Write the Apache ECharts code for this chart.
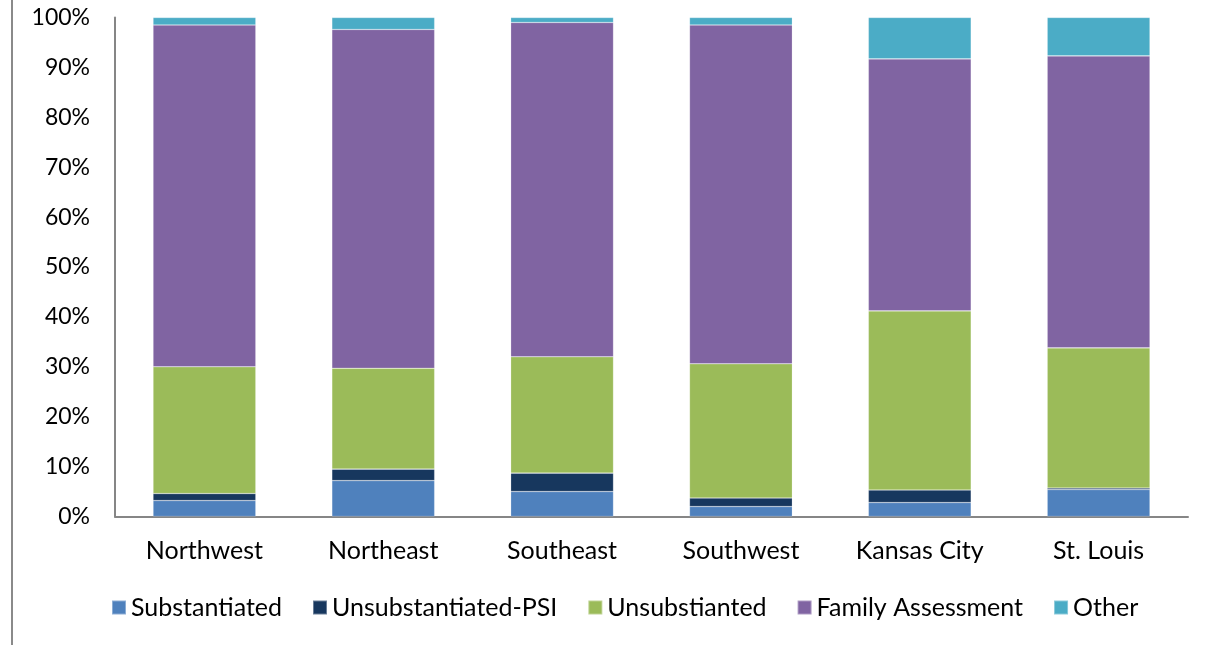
<!DOCTYPE html>
<html>
<head>
<meta charset="utf-8">
<script src="https://cdn.jsdelivr.net/npm/echarts@6/dist/echarts.min.js"></script>
<style>html,body{margin:0;padding:0;background:#fff;}#c{width:1214px;height:645px;}</style>
</head>
<body>
<div id="c"></div>
<script>
const categories = ['Northwest', 'Northeast', 'Southeast', 'Southwest', 'Kansas City', 'St. Louis'];
const seriesNames = ['Substantiated', 'Unsubstantiated-PSI', 'Unsubstianted', 'Family Assessment', 'Other'];
const substantiated = [3.2, 7.2, 5.0, 2.0, 2.8, 5.4];
const unsubstantiatedPSI = [1.4, 2.3, 3.7, 1.7, 2.5, 0.3];
const unsubstianted = [25.4, 20.2, 23.3, 26.9, 35.9, 28.1];
const familyAssessment = [68.5, 67.9, 67.0, 67.9, 50.5, 58.5];
const other = [1.5, 2.4, 1.0, 1.5, 8.3, 7.7];
const colors = ['#4F81BD', '#17375E', '#9BBB59', '#8064A2', '#4BACC6'];

const values = [substantiated, unsubstantiatedPSI, unsubstianted, familyAssessment, other];
const chart = echarts.init(document.getElementById('c'));
const font = 'Lato, "Open Sans", sans-serif';
chart.setOption({
  animation: false,
  textStyle: { fontFamily: font },
  grid: { left: 115, right: 26, top: 17.5, bottom: 128.5, containLabel: false },
  graphic: [{
    type: 'line', shape: { x1: 12, y1: 0, x2: 12, y2: 645 },
    style: { stroke: '#8a8a8a', lineWidth: 2 }
  }],
  legend: {
    data: seriesNames, top: 590, left: 106,
    icon: 'rect', itemWidth: 14, itemHeight: 14, itemGap: 30,
    textStyle: { fontSize: 25, color: '#000', fontFamily: font }
  },
  xAxis: {
    type: 'category', data: categories,
    axisLine: { lineStyle: { color: '#868686', width: 2 } },
    axisTick: { show: false },
    axisLabel: { fontSize: 25, color: '#000', margin: 22, fontFamily: font }
  },
  yAxis: {
    type: 'value', min: 0, max: 100, interval: 10,
    axisLine: { show: true, lineStyle: { color: '#868686', width: 2 } },
    axisTick: { show: false },
    splitLine: { show: false },
    axisLabel: { formatter: '{value}%', fontSize: 23, color: '#000', margin: 25, fontFamily: font }
  },
  series: seriesNames.map((n, i) => ({
    name: n, type: 'bar', stack: 'total', barWidth: '57.5%',
    data: values[i],
    itemStyle: { color: colors[i], borderColor: 'rgba(255,255,255,0.35)', borderWidth: 0.6 }
  }))
});
</script>
</body>
</html>
